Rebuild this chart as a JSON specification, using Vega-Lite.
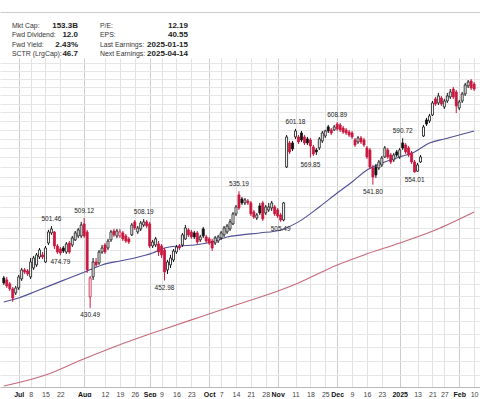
{
  "$schema": "https://vega.github.io/schema/vega-lite/v6.json",
  "autosize": {"type": "pad"},
  "padding": {"top": 12, "left": 0, "right": 0, "bottom": 0},
  "background": "white",
  "spacing": 0,
  "config": {"view": {"stroke": null}, "font": "Liberation Sans"},
  "datasets": {
    "info": [
      {"row": 1, "col": 1, "label": "Mkt Cap:", "value": "153.3B"},
      {"row": 2, "col": 1, "label": "Fwd Dividend:", "value": "12.0"},
      {"row": 3, "col": 1, "label": "Fwd Yield:", "value": "2.43%"},
      {"row": 4, "col": 1, "label": "SCTR (LrgCap):", "value": "46.7"},
      {"row": 1, "col": 2, "label": "P/E:", "value": "12.19"},
      {"row": 2, "col": 2, "label": "EPS:", "value": "40.55"},
      {"row": 3, "col": 2, "label": "Last Earnings:", "value": "2025-01-15"},
      {"row": 4, "col": 2, "label": "Next Earnings:", "value": "2025-04-14"}
    ],
    "ohlc": [
      {"i":0,"o":455.2,"h":456.9,"l":449.3,"c":451.0},
      {"i":1,"o":453.5,"h":456.1,"l":446.8,"c":448.5},
      {"i":2,"o":450.2,"h":451.8,"l":444.3,"c":446.0},
      {"i":3,"o":446.0,"h":447.6,"l":435.3,"c":438.5},
      {"i":4,"o":442.7,"h":448.5,"l":441.0,"c":446.8},
      {"i":5,"o":446.8,"h":457.8,"l":445.1,"c":456.1},
      {"i":6,"o":454.4,"h":463.8,"l":452.7,"c":462.1},
      {"i":7,"o":462.1,"h":463.8,"l":458.6,"c":460.3},
      {"i":8,"o":461.2,"h":462.9,"l":456.9,"c":458.6},
      {"i":9,"o":456.1,"h":472.5,"l":454.4,"c":469.0},
      {"i":10,"o":463.8,"h":474.3,"l":462.1,"c":472.5},
      {"i":11,"o":466.4,"h":476.9,"l":464.7,"c":475.2},
      {"i":12,"o":473.4,"h":481.4,"l":471.6,"c":479.6},
      {"i":13,"o":475.2,"h":477.8,"l":471.6,"c":473.4},
      {"i":14,"o":469.0,"h":483.2,"l":468.1,"c":481.4},
      {"i":15,"o":485.9,"h":497.9,"l":484.1,"c":496.0},
      {"i":16,"o":495.1,"h":501.46,"l":493.3,"c":498.8},
      {"i":17,"o":496.0,"h":496.9,"l":480.5,"c":483.2},
      {"i":18,"o":483.2,"h":485.0,"l":476.1,"c":477.8},
      {"i":19,"o":480.5,"h":482.3,"l":474.79,"c":476.9},
      {"i":20,"o":481.4,"h":483.2,"l":476.9,"c":478.7},
      {"i":21,"o":477.8,"h":486.8,"l":476.1,"c":485.0},
      {"i":22,"o":485.9,"h":487.7,"l":476.1,"c":477.8},
      {"i":23,"o":484.1,"h":492.3,"l":482.3,"c":490.5},
      {"i":24,"o":488.7,"h":496.9,"l":487.7,"c":495.1},
      {"i":25,"o":492.3,"h":499.7,"l":490.5,"c":497.9},
      {"i":26,"o":492.3,"h":505.4,"l":490.5,"c":502.5},
      {"i":27,"o":503.5,"h":509.12,"l":490.5,"c":492.3},
      {"i":28,"o":496.0,"h":497.9,"l":459.5,"c":462.1},
      {"i":29,"o":439.4,"h":456.9,"l":430.49,"c":455.2},
      {"i":30,"o":456.1,"h":472.5,"l":453.5,"c":469.0},
      {"i":31,"o":469.0,"h":472.5,"l":464.7,"c":466.4},
      {"i":32,"o":468.1,"h":479.6,"l":466.4,"c":477.8},
      {"i":33,"o":477.8,"h":484.1,"l":476.1,"c":481.4},
      {"i":34,"o":484.1,"h":485.9,"l":476.1,"c":477.8},
      {"i":35,"o":481.4,"h":489.6,"l":479.6,"c":487.7},
      {"i":36,"o":488.7,"h":497.9,"l":486.8,"c":496.0},
      {"i":37,"o":496.9,"h":498.8,"l":491.4,"c":493.3},
      {"i":38,"o":492.3,"h":498.8,"l":490.5,"c":496.9},
      {"i":39,"o":492.3,"h":498.8,"l":490.5,"c":496.0},
      {"i":40,"o":495.1,"h":496.9,"l":487.7,"c":489.6},
      {"i":41,"o":492.3,"h":494.2,"l":485.9,"c":487.7},
      {"i":42,"o":489.6,"h":491.4,"l":485.0,"c":486.8},
      {"i":43,"o":493.3,"h":504.4,"l":492.3,"c":502.5},
      {"i":44,"o":505.4,"h":507.2,"l":497.9,"c":499.7},
      {"i":45,"o":496.0,"h":501.6,"l":494.2,"c":499.7},
      {"i":46,"o":498.8,"h":506.3,"l":496.9,"c":504.4},
      {"i":47,"o":502.5,"h":508.19,"l":500.7,"c":505.4},
      {"i":48,"o":505.4,"h":507.2,"l":499.7,"c":501.6},
      {"i":49,"o":503.5,"h":505.4,"l":481.4,"c":483.2},
      {"i":50,"o":483.2,"h":488.7,"l":481.4,"c":486.8},
      {"i":51,"o":484.1,"h":491.4,"l":482.3,"c":489.6},
      {"i":52,"o":485.0,"h":487.7,"l":474.3,"c":477.8},
      {"i":53,"o":483.2,"h":485.0,"l":472.5,"c":475.2},
      {"i":54,"o":479.6,"h":481.4,"l":452.98,"c":460.3},
      {"i":55,"o":462.1,"h":470.8,"l":458.6,"c":469.0},
      {"i":56,"o":466.4,"h":475.2,"l":463.8,"c":472.5},
      {"i":57,"o":470.8,"h":480.5,"l":469.0,"c":478.7},
      {"i":58,"o":477.8,"h":484.1,"l":476.1,"c":482.3},
      {"i":59,"o":483.2,"h":485.0,"l":479.6,"c":481.4},
      {"i":60,"o":484.1,"h":495.1,"l":482.3,"c":493.3},
      {"i":61,"o":489.6,"h":502.5,"l":488.7,"c":499.7},
      {"i":62,"o":497.9,"h":499.7,"l":491.4,"c":493.3},
      {"i":63,"o":496.0,"h":497.9,"l":489.6,"c":491.4},
      {"i":64,"o":495.1,"h":496.9,"l":489.6,"c":491.4},
      {"i":65,"o":495.1,"h":496.9,"l":485.0,"c":486.8},
      {"i":66,"o":488.7,"h":493.3,"l":486.8,"c":491.4},
      {"i":67,"o":498.8,"h":500.7,"l":490.5,"c":492.3},
      {"i":68,"o":491.4,"h":493.3,"l":485.9,"c":487.7},
      {"i":69,"o":489.6,"h":491.4,"l":484.1,"c":485.9},
      {"i":70,"o":487.7,"h":489.6,"l":478.7,"c":481.4},
      {"i":71,"o":485.9,"h":492.3,"l":484.1,"c":490.5},
      {"i":72,"o":487.7,"h":493.3,"l":485.9,"c":491.4},
      {"i":73,"o":490.5,"h":496.9,"l":488.7,"c":495.1},
      {"i":74,"o":493.3,"h":501.6,"l":491.4,"c":499.7},
      {"i":75,"o":496.0,"h":503.5,"l":494.2,"c":501.6},
      {"i":76,"o":498.8,"h":508.2,"l":496.9,"c":505.4},
      {"i":77,"o":503.5,"h":514.9,"l":502.5,"c":513.0},
      {"i":78,"o":513.0,"h":521.6,"l":511.0,"c":519.7},
      {"i":79,"o":531.5,"h":535.19,"l":516.8,"c":518.7},
      {"i":80,"o":527.5,"h":529.5,"l":521.6,"c":523.6},
      {"i":81,"o":523.6,"h":528.5,"l":521.6,"c":526.5},
      {"i":82,"o":525.5,"h":527.5,"l":521.6,"c":523.6},
      {"i":83,"o":523.6,"h":525.5,"l":511.0,"c":513.0},
      {"i":84,"o":514.9,"h":516.8,"l":508.2,"c":510.1},
      {"i":85,"o":509.1,"h":513.9,"l":507.2,"c":512.0},
      {"i":86,"o":520.7,"h":523.6,"l":512.0,"c":513.9},
      {"i":87,"o":523.6,"h":525.5,"l":506.3,"c":508.2},
      {"i":88,"o":513.9,"h":521.6,"l":512.0,"c":519.7},
      {"i":89,"o":516.8,"h":523.6,"l":514.9,"c":519.7},
      {"i":90,"o":518.7,"h":525.5,"l":515.8,"c":523.6},
      {"i":91,"o":519.7,"h":521.6,"l":511.0,"c":513.0},
      {"i":92,"o":516.8,"h":518.7,"l":509.1,"c":511.0},
      {"i":93,"o":512.0,"h":513.9,"l":505.49,"c":507.2},
      {"i":94,"o":507.2,"h":524.6,"l":506.0,"c":523.6},
      {"i":95,"o":560.0,"h":594.4,"l":558.9,"c":592.2},
      {"i":96,"o":585.6,"h":587.8,"l":573.7,"c":575.9},
      {"i":97,"o":585.6,"h":587.8,"l":576.9,"c":579.1},
      {"i":98,"o":592.2,"h":601.18,"l":590.0,"c":598.9},
      {"i":99,"o":592.2,"h":594.4,"l":584.5,"c":586.7},
      {"i":100,"o":596.6,"h":598.9,"l":586.7,"c":588.9},
      {"i":101,"o":592.2,"h":594.4,"l":583.4,"c":585.6},
      {"i":102,"o":590.0,"h":592.2,"l":583.4,"c":585.6},
      {"i":103,"o":588.9,"h":591.1,"l":569.85,"c":582.3},
      {"i":104,"o":581.3,"h":583.4,"l":571.6,"c":573.7},
      {"i":105,"o":578.0,"h":580.2,"l":572.6,"c":575.9},
      {"i":106,"o":580.2,"h":592.2,"l":578.0,"c":590.0},
      {"i":107,"o":587.8,"h":598.9,"l":585.6,"c":596.6},
      {"i":108,"o":593.3,"h":600.2,"l":591.1,"c":598.9},
      {"i":109,"o":603.4,"h":605.6,"l":596.6,"c":598.9},
      {"i":110,"o":600.0,"h":602.2,"l":594.4,"c":596.6},
      {"i":111,"o":600.0,"h":605.6,"l":598.9,"c":603.4},
      {"i":112,"o":606.7,"h":608.89,"l":598.9,"c":601.1},
      {"i":113,"o":605.6,"h":607.9,"l":597.7,"c":600.0},
      {"i":114,"o":602.2,"h":604.5,"l":595.5,"c":597.7},
      {"i":115,"o":600.0,"h":602.2,"l":594.4,"c":596.6},
      {"i":116,"o":597.7,"h":600.0,"l":592.2,"c":594.4},
      {"i":117,"o":596.6,"h":598.9,"l":590.0,"c":592.2},
      {"i":118,"o":588.9,"h":591.1,"l":581.3,"c":583.4},
      {"i":119,"o":586.7,"h":593.3,"l":584.5,"c":591.1},
      {"i":120,"o":591.1,"h":593.3,"l":584.5,"c":586.7},
      {"i":121,"o":588.9,"h":591.1,"l":581.3,"c":583.4},
      {"i":122,"o":580.2,"h":582.3,"l":568.4,"c":570.5},
      {"i":123,"o":578.0,"h":580.2,"l":557.9,"c":560.0},
      {"i":124,"o":558.9,"h":562.1,"l":541.8,"c":549.6},
      {"i":125,"o":560.0,"h":563.1,"l":548.6,"c":551.7},
      {"i":126,"o":558.9,"h":567.3,"l":556.8,"c":565.2},
      {"i":127,"o":562.1,"h":571.6,"l":560.0,"c":569.4},
      {"i":128,"o":570.5,"h":582.3,"l":569.4,"c":580.2},
      {"i":129,"o":578.0,"h":580.2,"l":568.4,"c":570.5},
      {"i":130,"o":572.6,"h":574.8,"l":563.1,"c":565.2},
      {"i":131,"o":567.3,"h":574.8,"l":565.2,"c":572.6},
      {"i":132,"o":575.9,"h":578.0,"l":570.5,"c":572.6},
      {"i":133,"o":570.5,"h":580.2,"l":568.4,"c":578.0},
      {"i":134,"o":585.6,"h":590.72,"l":578.0,"c":580.2},
      {"i":135,"o":583.4,"h":585.6,"l":573.7,"c":575.9},
      {"i":136,"o":580.2,"h":582.3,"l":570.5,"c":572.6},
      {"i":137,"o":574.8,"h":576.9,"l":563.1,"c":565.2},
      {"i":138,"o":565.2,"h":567.3,"l":554.01,"c":554.8},
      {"i":139,"o":555.5,"h":564.2,"l":555.0,"c":562.1},
      {"i":140,"o":565.2,"h":572.6,"l":564.2,"c":570.5},
      {"i":141,"o":593.3,"h":605.6,"l":592.2,"c":603.4},
      {"i":142,"o":611.3,"h":613.6,"l":604.5,"c":606.7},
      {"i":143,"o":610.1,"h":618.2,"l":607.9,"c":615.9},
      {"i":144,"o":617.0,"h":633.3,"l":615.9,"c":631.0},
      {"i":145,"o":635.7,"h":638.1,"l":627.5,"c":629.8},
      {"i":146,"o":631.0,"h":642.9,"l":628.6,"c":639.3},
      {"i":147,"o":636.9,"h":639.3,"l":627.5,"c":629.8},
      {"i":148,"o":626.3,"h":635.7,"l":623.9,"c":633.3},
      {"i":149,"o":633.3,"h":642.9,"l":631.0,"c":639.3},
      {"i":150,"o":638.1,"h":647.6,"l":635.7,"c":644.1},
      {"i":151,"o":647.6,"h":650.1,"l":635.7,"c":638.1},
      {"i":152,"o":644.1,"h":646.4,"l":619.3,"c":627.5},
      {"i":153,"o":625.1,"h":634.5,"l":622.8,"c":632.2},
      {"i":154,"o":633.3,"h":644.1,"l":631.0,"c":641.7},
      {"i":155,"o":641.7,"h":655.0,"l":639.3,"c":652.5},
      {"i":156,"o":651.3,"h":658.6,"l":648.9,"c":656.2},
      {"i":157,"o":657.4,"h":659.8,"l":646.4,"c":648.9},
      {"i":158,"o":653.7,"h":656.2,"l":645.2,"c":647.6}
    ],
    "ma50": [
      {"i":0,"v":435.3},{"i":5,"v":438.5},{"i":11,"v":444.3},{"i":17,"v":450.2},{"i":22,"v":455.2},{"i":28,"v":461.2},{"i":33,"v":466.4},{"i":39,"v":469.9},{"i":44,"v":472.5},{"i":50,"v":476.9},{"i":54,"v":481.4},{"i":59,"v":483.2},{"i":64,"v":484.1},{"i":70,"v":486.8},{"i":75,"v":491.4},{"i":80,"v":493.3},{"i":86,"v":495.1},{"i":93,"v":497.9},{"i":99,"v":505.4},{"i":106,"v":519.7},{"i":112,"v":533.4},{"i":117,"v":544.5},{"i":122,"v":556.8},{"i":128,"v":565.2},{"i":133,"v":570.5},{"i":138,"v":575.9},{"i":143,"v":585.6},{"i":148,"v":590.0},{"i":153,"v":594.4},{"i":158,"v":598.9}
    ],
    "ma200": [
      {"i":0,"v":372.1},{"i":14,"v":379.8},{"i":26,"v":390.6},{"i":37,"v":400.2},{"i":53,"v":413.1},{"i":66,"v":423.3},{"i":79,"v":433.6},{"i":93,"v":445.1},{"i":99,"v":451.0},{"i":112,"v":466.4},{"i":121,"v":475.2},{"i":133,"v":485.9},{"i":145,"v":497.9},{"i":158,"v":514.9}
    ],
    "notes": [
      {"i":16,"p":501.46,"side":"h"},{"i":27,"p":509.12,"side":"h"},{"i":47,"p":508.19,"side":"h"},{"i":79,"p":535.19,"side":"h"},{"i":98,"p":601.18,"side":"h"},{"i":112,"p":608.89,"side":"h"},{"i":134,"p":590.72,"side":"h"},
      {"i":19,"p":474.79,"side":"l"},{"i":29,"p":430.49,"side":"l"},{"i":54,"p":452.98,"side":"l"},{"i":93,"p":505.49,"side":"l"},{"i":103,"p":569.85,"side":"l"},{"i":124,"p":541.80,"side":"l"},{"i":138,"p":554.01,"side":"l"}
    ]
  },
  "vconcat": [
    {
      "width": 480,
      "height": 46,
      "data": {"name": "info"},
      "resolve": {"scale": {"x": "independent"}, "axis": {"x": "independent"}},
      "layer": [
        {
          "mark": {"type": "text", "align": "left", "baseline": "middle", "fontSize": 6.9, "color": "#333", "font": "Liberation Sans"},
          "encoding": {
            "x": {"field": "col", "type": "ordinal", "scale": {"type": "point", "domain": [1, 2], "range": [12, 100], "padding": 0}, "axis": null},
            "y": {"field": "row", "type": "ordinal", "scale": {"type": "point", "domain": [1, 2, 3, 4], "range": [13.5, 42], "padding": 0}, "axis": null},
            "text": {"field": "label"}
          }
        },
        {
          "mark": {"type": "text", "align": "right", "baseline": "middle", "fontSize": 8, "fontWeight": "bold", "color": "#222", "font": "Liberation Sans"},
          "encoding": {
            "x": {"field": "col", "type": "ordinal", "scale": {"type": "point", "domain": [1, 2], "range": [78, 188], "padding": 0}, "axis": null},
            "y": {"field": "row", "type": "ordinal", "scale": {"type": "point", "domain": [1, 2, 3, 4], "range": [13.5, 42], "padding": 0}, "axis": null},
            "text": {"field": "value"}
          }
        },
        {
          "mark": {"type": "text", "opacity": 0},
          "encoding": {
            "x": {"field": "row", "type": "quantitative", "axis": {"orient": "top", "domain": true, "domainColor": "#cccccc", "domainWidth": 1, "labels": false, "ticks": false, "grid": false, "title": null}},
            "text": {"value": ""}
          }
        }
      ]
    },
    {
      "width": 480,
      "height": 329,
      "layer": [
        {
          "data": {"name": "ma200"},
          "mark": {"type": "line", "color": "#c66a7c", "strokeWidth": 1.1, "clip": true, "interpolate": "monotone"},
          "encoding": {
            "x": {"field": "i", "type": "quantitative", "scale": {"domain": [0.4, 158.3], "nice": false, "zero": false},
              "axis": {
                "orient": "bottom",
                "values": [5,9,14,19,27,34,39,44,49,53,58,63,69,73,78,83,88,92,98,103,108,112,117,122,127,133,139,144,148,153,158],
                "tickCount": 500,
                "labelExpr": "['Jul','8','15','22','Aug','12','19','26','Sep','9','16','23','Oct','7','14','21','28','Nov','11','18','25','Dec','9','16','23','2025','13','21','27','Feb','10'][indexof([5,9,14,19,27,34,39,44,49,53,58,63,69,73,78,83,88,92,98,103,108,112,117,122,127,133,139,144,148,153,158], datum.value)]",
                "labelFontWeight": {"condition": {"test": "indexof([5,27,49,69,92,112,133,153], datum.value) >= 0", "value": "bold"}, "value": "normal"},
                "labelColor": {"condition": {"test": "indexof([5,27,49,69,92,112,133,153], datum.value) >= 0", "value": "#111"}, "value": "#444"},
                "grid": true,
                "gridColor": {"condition": {"test": "indexof([5,27,49,69,92,112,133,153], datum.value) >= 0", "value": "#cccccc"}, "value": "#e2e2e2"},
                "gridWidth": 1,
                "ticks": false,
                "domain": true,
                "domainColor": "#b8b8b8",
                "labelFont": "Liberation Sans",
                "labelFontSize": 7,
                "labelPadding": 3,
                "labelFlush": false,
                "labelOverlap": false,
                "title": null
              }
            },
            "y": {"field": "v", "type": "quantitative", "scale": {"type": "log", "domain": [371.4, 686.2], "nice": false, "zero": false},
              "axis": {
                "orient": "right",
                "values": [380,390,400,410,420,430,440,450,460,470,480,490,500,510,520,530,540,550,560,570,580,590,600,610,620,630,640,650,660,670,680],
                "tickCount": 500,
                "grid": true, "gridColor": "#e6e6e6", "labels": false, "ticks": false, "domain": false, "title": null
              }
            }
          }
        },
        {
          "data": {"name": "ma50"},
          "mark": {"type": "line", "color": "#4f4f96", "strokeWidth": 1.1, "clip": true, "interpolate": "monotone"},
          "encoding": {
            "x": {"field": "i", "type": "quantitative"},
            "y": {"field": "v", "type": "quantitative"}
          }
        },
        {
          "data": {"name": "ohlc"},
          "transform": [{"window": [{"op": "lag", "field": "c", "as": "pc"}], "sort": [{"field": "i", "order": "ascending"}]}],
          "mark": {"type": "rule", "strokeWidth": 1, "clip": true},
          "encoding": {
            "x": {"field": "i", "type": "quantitative"},
            "y": {"field": "l", "type": "quantitative"},
            "y2": {"field": "h"},
            "color": {"condition": {"test": "datum.pc != null && datum.c < datum.pc", "value": "#c9173f"}, "value": "#111"}
          }
        },
        {
          "data": {"name": "ohlc"},
          "transform": [{"window": [{"op": "lag", "field": "c", "as": "pc"}], "sort": [{"field": "i", "order": "ascending"}]}],
          "mark": {"type": "bar", "size": 2, "strokeWidth": 0.8, "clip": true},
          "encoding": {
            "x": {"field": "i", "type": "quantitative"},
            "y": {"field": "o", "type": "quantitative"},
            "y2": {"field": "c"},
            "fill": {"condition": [
              {"test": "datum.c >= datum.o", "value": "#ffffff"},
              {"test": "datum.pc != null && datum.c < datum.pc", "value": "#c9173f"}
            ], "value": "#111"},
            "stroke": {"condition": {"test": "datum.pc != null && datum.c < datum.pc", "value": "#c9173f"}, "value": "#111"}
          }
        },
        {
          "data": {"name": "notes"},
          "transform": [{"filter": "datum.side == 'h'"}],
          "mark": {"type": "text", "dy": -7, "fontSize": 6.5, "color": "#222", "font": "Liberation Sans", "baseline": "middle"},
          "encoding": {
            "x": {"field": "i", "type": "quantitative"},
            "y": {"field": "p", "type": "quantitative"},
            "text": {"field": "p", "type": "quantitative", "format": ".2f"}
          }
        },
        {
          "data": {"name": "notes"},
          "transform": [{"filter": "datum.side == 'l'"}],
          "mark": {"type": "text", "dy": 7, "fontSize": 6.5, "color": "#222", "font": "Liberation Sans", "baseline": "middle"},
          "encoding": {
            "x": {"field": "i", "type": "quantitative"},
            "y": {"field": "p", "type": "quantitative"},
            "text": {"field": "p", "type": "quantitative", "format": ".2f"}
          }
        }
      ]
    }
  ]
}
